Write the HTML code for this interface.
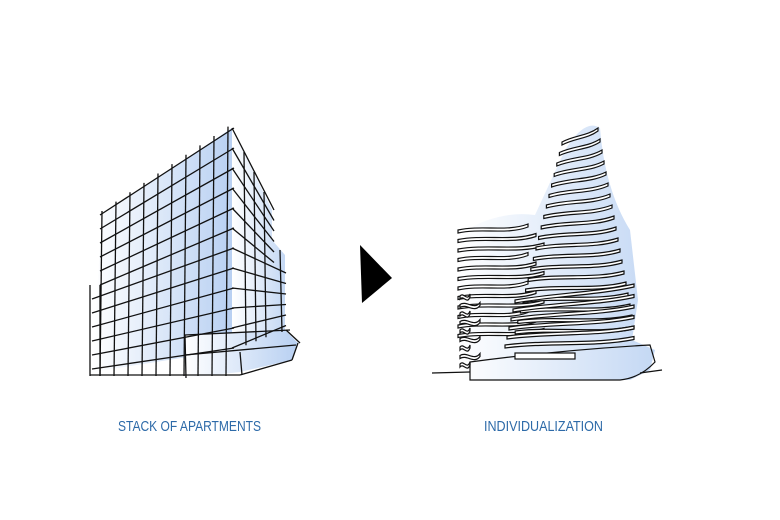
<!DOCTYPE html>
<html><head><meta charset="utf-8"><style>
html,body{margin:0;padding:0;background:#fff;width:780px;height:520px;overflow:hidden}
svg{display:block}
text{font-family:"Liberation Sans",sans-serif;font-size:15px;fill:#2d6aa8}
</style></head><body>
<svg id="s" width="780" height="520" viewBox="0 0 780 520" xmlns="http://www.w3.org/2000/svg">
<defs>
<linearGradient id="g" x1="0" y1="0" x2="1" y2="0">
<stop offset="0" stop-color="#ffffff"/><stop offset="1" stop-color="#b8d0f2"/></linearGradient>
<linearGradient id="g2" x1="0" y1="0" x2="1" y2="0">
<stop offset="0" stop-color="#ffffff"/><stop offset="1" stop-color="#c4d8f4"/></linearGradient>
</defs>
<polygon points="102,215 232,128 232,350 92,372" fill="url(#g)"/>
<polygon points="232,128 272,210 272,240 285,255 285,332 232,350" fill="url(#g2)"/>
<polygon points="185,335 285,330 298,343 292,360 240,372 185,378" fill="url(#g)"/>
<g id="L" stroke="#111" stroke-width="1.3" fill="none"></g>
<polygon points="360,245 392,278 362,303" fill="#000"/>
<path d="M462,232 Q500,210 535,215 L565,150 Q585,118 600,128 Q605,190 630,230 L638,300 L632,340 L655,350 L650,370 L630,380 L462,380 L458,300 Z" fill="url(#g2)"/>
<g id="R" stroke="#111" stroke-width="1.2" fill="#fff"></g>
<line x1="432" y1="373" x2="470" y2="372" stroke="#111" stroke-width="1.2"/>
<line x1="640" y1="373" x2="662" y2="370" stroke="#111" stroke-width="1.2"/>
<text x="118" y="431" textLength="143" lengthAdjust="spacingAndGlyphs">STACK OF APARTMENTS</text>
<text x="484" y="431" textLength="119" lengthAdjust="spacingAndGlyphs">INDIVIDUALIZATION</text>
</svg>
<script>
var L=document.getElementById('L'),R=document.getElementById('R'),h='';
function ln(a,b,c,d){h+='<line x1="'+a+'" y1="'+b+'" x2="'+c+'" y2="'+d+'"/>';}
for(var i=0;i<12;i++){ln(92+(i<6?8:0),215+i*14,234,128+i*20);ln(232,128+i*20,274+(i>5?12:0),210+i*10.5);}
for(var x=102;x<=232;x+=14){var yt=215-(x-102)*0.67;ln(x,yt-4,x-2,376);}
for(var x=90;x<102;x+=10){ln(x,285,x,376);}
for(var x=244;x<=272;x+=10){ln(x,128+(x-232)*2,x+2,350-(x-232)*0.4);}
ln(280,250,282,332);ln(185,335,290,330);ln(185,355,296,345);ln(185,335,186,378);ln(240,352,242,375);
ln(90,375,240,375);ln(240,375,292,360);ln(298,343,292,360);ln(286,330,300,343);
L.innerHTML=h;h='';
function st(l,y,r,d,w){w=w||3;var a=l+(r-l)*0.35,b=l+(r-l)*0.7;
h+='<path d="M'+l+','+y+' C'+a+','+(y-d*0.2-4)+' '+b+','+(y-d+8)+' '+r+','+(y-d)+' L'+r+','+(y-d+w)+' C'+b+','+(y-d+8+w)+' '+a+','+(y-d*0.2-4+w)+' '+l+','+(y+w)+' Z"/>';}
for(var i=0;i<12;i++){var y=230+i*9.5;st(458,y,528+(i%3)*8,6);}
for(var i=0;i<9;i++){var y=296+i*8.5;st(460,y,470+(i%2)*10,2);}
for(var i=0;i<19;i++){var y=142+i*10.5;var l=562-i*2.6,r=598+i*2;st(l,y,r,14-i*0.5);}
for(var i=0;i<6;i++){var y=300+i*9;st(515-i*2,y,634,16-i*1.5);}
h+='<path d="M470,362 Q560,350 650,345 L655,362 Q640,378 620,380 L470,380 Z" fill="none"/>';
h+='<rect x="515" y="353" width="60" height="6" fill="#fff"/>';
R.innerHTML=h;
</script>
</body></html>
